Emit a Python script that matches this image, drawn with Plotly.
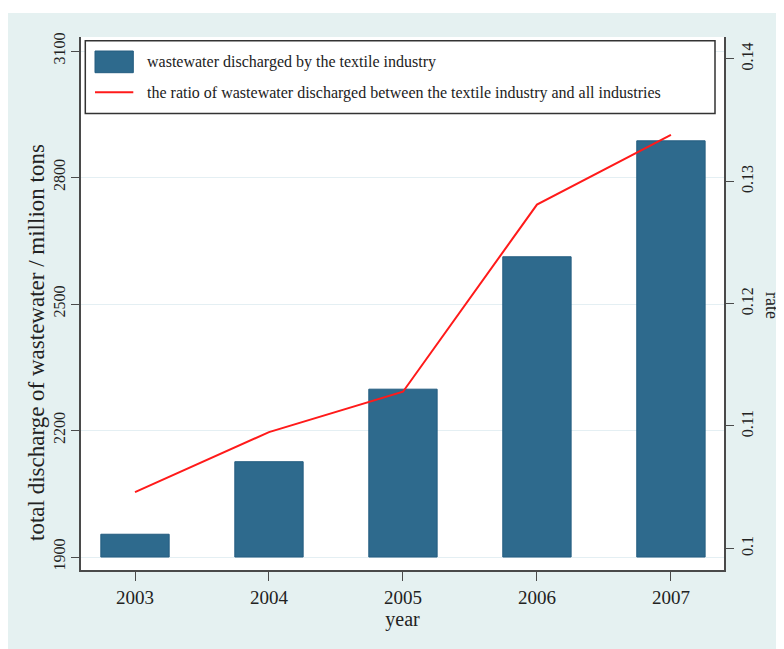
import plotly.graph_objects as go

years = [2003, 2004, 2005, 2006, 2007]
discharge = [1954, 2126, 2298, 2612, 2887]
ratio = [0.1046, 0.1095, 0.1128, 0.1281, 0.1338]
left_ticks = [1900, 2200, 2500, 2800, 3100]
right_ticks = [0.10, 0.11, 0.12, 0.13, 0.14]
right_tick_labels = ["0.1", "0.11", "0.12", "0.13", "0.14"]
bar_label = "wastewater discharged by the textile industry"
line_label = "the ratio of wastewater discharged between the textile industry and all industries"

BAR = "#2e6a8d"
RED = "#ff1a1a"
TEAL = "#e5f1f1"
FONT = "Liberation Serif"
AX = "#4a4a4a"

# the page body adds an 8px margin; work in window pixels and shift
OFF = 8
FIG_W, FIG_H = 784 - OFF, 649 - OFF
L, R, T, B = 81 - OFF, 724 - OFF, 37 - OFF, 570 - OFF
W, H = R - L, B - T
def px(x):
    return (x - OFF - L) / W
def py(y):
    return (B - (y - OFF)) / H

fig = go.Figure()
fig.add_trace(go.Bar(
    x=years, y=[d - 1900 for d in discharge], base=1900, width=0.51,
    marker=dict(color=BAR, line=dict(color="#245d80", width=1)),
    name=bar_label, showlegend=False, yaxis="y",
))
fig.add_trace(go.Scatter(
    x=years, y=ratio, mode="lines", line=dict(color=RED, width=2),
    name=line_label, showlegend=False, yaxis="y2",
))

shapes = [
    # white strip above the teal frame
    dict(type="rect", xref="paper", yref="paper", x0=-0.3, x1=1.3, y0=py(13), y1=1.3,
         fillcolor="white", line=dict(width=0), layer="below"),
    # legend box
    dict(type="rect", xref="paper", yref="paper", x0=px(85.3), x1=px(715), y0=py(113.5), y1=py(40.7),
         fillcolor="white", line=dict(color="#333333", width=1.5), layer="above"),
    dict(type="rect", xref="paper", yref="paper", x0=px(95), x1=px(133.3), y0=py(72.7), y1=py(51),
         fillcolor=BAR, line=dict(color="#245d80", width=1), layer="above"),
    dict(type="line", xref="paper", yref="paper", x0=px(95), x1=px(133.3), y0=py(92.3), y1=py(92.3),
         line=dict(color=RED, width=2), layer="above"),
]
annotations = [
    dict(text=bar_label, xref="paper", yref="paper", x=px(145), y=py(62), xanchor="left",
         yanchor="middle", showarrow=False, font=dict(family=FONT, size=16, color="#222")),
    dict(text=line_label, xref="paper", yref="paper", x=px(145), y=py(93), xanchor="left",
         yanchor="middle", showarrow=False, font=dict(family=FONT, size=16, color="#222")),
    dict(text="total discharge of wastewater / million tons", xref="paper", yref="paper",
         x=px(36), y=py(343), xanchor="center", yanchor="middle", textangle=-90,
         showarrow=False, font=dict(family=FONT, size=23, color="#222")),
    dict(text="rate", xref="paper", yref="paper", x=px(772), y=py(305), xanchor="center",
         yanchor="middle", textangle=90, showarrow=False,
         font=dict(family=FONT, size=18, color="#222")),
]

fig.update_layout(
    width=FIG_W, height=FIG_H,
    margin=dict(l=L, r=FIG_W - R, t=T, b=FIG_H - B, autoexpand=False),
    paper_bgcolor=TEAL, plot_bgcolor="white",
    font=dict(family=FONT, color="#222"),
    showlegend=False,
    xaxis=dict(
        range=[2002.597, 2007.396], tickmode="array", tickvals=years,
        ticktext=[str(y) for y in years], ticks="outside", ticklen=9, tickcolor=AX,
        showline=True, linecolor=AX, linewidth=1.5, showgrid=False, zeroline=False,
        tickfont=dict(size=19, family=FONT), automargin=False,
        title=dict(text="year", font=dict(size=20, family=FONT), standoff=4),
    ),
    yaxis=dict(
        range=[1869.2, 3133.2], tickmode="array", tickvals=left_ticks,
        ticktext=[str(v) for v in left_ticks], tickangle=-90,
        ticks="outside", ticklen=8, tickcolor=AX, automargin=False,
        showline=True, linecolor=AX, linewidth=1.5,
        showgrid=True, gridcolor="#e4eff3", gridwidth=1, zeroline=False,
        tickfont=dict(size=16, family=FONT),
    ),
    yaxis2=dict(
        overlaying="y", side="right",
        range=[0.098227, 0.141797], tickmode="array", tickvals=right_ticks,
        ticktext=right_tick_labels, tickangle=-90,
        ticks="outside", ticklen=8, tickcolor=AX, automargin=False,
        showline=True, linecolor=AX, linewidth=1.5, showgrid=False, zeroline=False,
        tickfont=dict(size=16, family=FONT),
    ),
    shapes=shapes, annotations=annotations,
)

fig.write_html("out.html")
